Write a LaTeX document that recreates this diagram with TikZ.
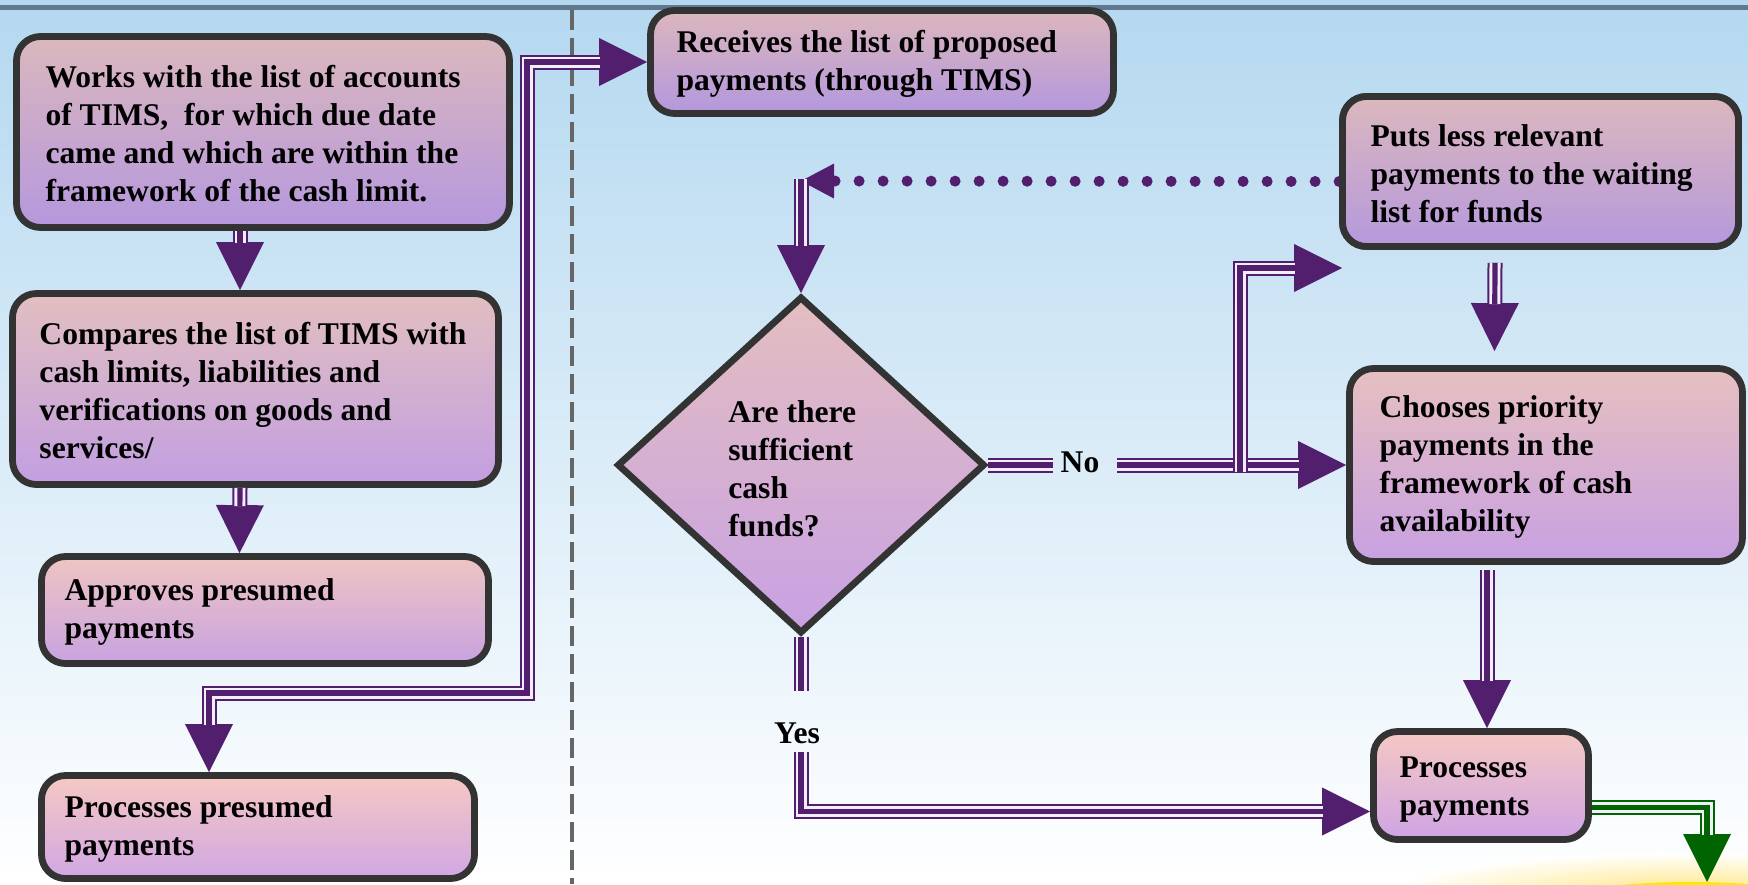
\documentclass[tikz,border=0pt]{standalone}
\usepackage{fontspec}
\setmainfont{Liberation Serif}
\usetikzlibrary{arrows.meta,shapes.geometric,fit}
\definecolor{pp}{HTML}{521E6E}
\definecolor{bd}{HTML}{333333}
\definecolor{gr}{HTML}{006400}
\definecolor{gapc}{HTML}{F2EEF7}
\definecolor{bgt}{HTML}{B4D8F0}
\definecolor{bgm}{HTML}{D6E9F6}
\definecolor{topl}{HTML}{60798F}
\definecolor{dashc}{HTML}{666666}
\definecolor{glowc}{HTML}{FFE680}
\definecolor{corec}{HTML}{FFE800}
\definecolor{c1t}{HTML}{DBB8BD}\definecolor{c1b}{HTML}{B597DE}
\definecolor{c2t}{HTML}{E2BFC0}\definecolor{c2b}{HTML}{C29FE0}
\definecolor{c3t}{HTML}{EFC5C3}\definecolor{c3b}{HTML}{C8A2E0}
\definecolor{c4t}{HTML}{F6C8C4}\definecolor{c4b}{HTML}{D0A7E3}
\definecolor{c5t}{HTML}{DCB7BD}\definecolor{c5b}{HTML}{B397DD}
\definecolor{c6t}{HTML}{DCB8BD}\definecolor{c6b}{HTML}{B598DD}
\definecolor{c7t}{HTML}{E6C0C0}\definecolor{c7b}{HTML}{C8A0E2}
\definecolor{c8t}{HTML}{F5C8C4}\definecolor{c8b}{HTML}{CFA4E3}
\definecolor{cdt}{HTML}{E3BEC0}\definecolor{cdb}{HTML}{C8A1E3}
\newcommand\tconn[4]{%
  \draw[tout,draw=#1,#2] #4;
  \draw[tgap,#3] #4;
  \draw[tmid,draw=#1,#3] #4;}
\tikzset{
  tout/.style={line width=7.5pt},
  tgap/.style={line width=5.5pt, draw=gapc},
  tmid/.style={line width=2.6pt},
  tipE/.style={-{Triangle[length=24pt,width=24pt,line width=0pt]}},
  tipB/.style={{Triangle[length=24pt,width=24pt,line width=0pt]}-{Triangle[length=24pt,width=24pt,line width=0pt]}},
  shE/.style={shorten >=23.5pt},
  shB/.style={shorten >=23.5pt, shorten <=23.5pt},
  noend/.style={},
  box/.style={draw=bd, line width=3.4pt, rounded corners=12pt, inner sep=0pt},
  txt/.style={font=\bfseries\fontsize{15.8pt}{19pt}\selectfont, align=left, inner sep=0pt, anchor=west, text=black},
  lbl/.style={font=\bfseries\fontsize{15.8pt}{19pt}\selectfont, inner sep=0pt, text=black},
  dotl/.style={draw=pp, line width=5.5pt, line cap=round, dash pattern=on 0pt off 12pt,
     -{Triangle[length=16.5pt,width=17.5pt,line width=0pt]}},
  dashl/.style={draw=dashc, line width=2pt, dash pattern=on 10pt off 4pt}
}
\begin{document}
\begin{tikzpicture}[x=0.5pt,y=-0.5pt]
\useasboundingbox (0,0) rectangle (1748,884);
\shade[top color=bgt, middle color=bgm, bottom color=white] (0,0) rectangle (1748,884);
\begin{scope}
  \clip (0,0) rectangle (1748,884);
  \shade[inner color=glowc, outer color=white] (1690,893) ellipse [x radius=150pt, y radius=20pt];
  \fill[corec] (1690,893) ellipse [x radius=50pt, y radius=5.5pt];
\end{scope}
\draw[line width=2.5pt, draw=topl] (0,7.5) -- (1748,7.5);
\draw[dashl] (572,10) -- (572,884);

% coordinates
\coordinate (lp) at (801,181);
\coordinate (el) at (527,693);
\coordinate (n1) at (1053,465);
\coordinate (n2) at (1117,465);
\coordinate (br) at (1240,472);
\coordinate (brt) at (1342,268);
\coordinate (y1) at (801,691);
\coordinate (y2) at (801,752);
\coordinate (gend) at (1707,882);

% dotted connector (under the box border)
\node[box, fit={(1342.5,96.5) (1738.5,246.5)}] (b6pre) {};
\draw[dotl] ([yshift=-5pt]b6pre.west) -- (lp);

% boxes
\node[box, top color=c1t, bottom color=c1b, fit={(16.5,36.5) (509.5,227.5)}] (b1) {};
\node[box, top color=c2t, bottom color=c2b, fit={(12.5,293.5) (498.5,484.5)}] (b2) {};
\node[box, top color=c3t, bottom color=c3b, fit={(41.5,556.5) (488.5,663.5)}] (b3) {};
\node[box, top color=c4t, bottom color=c4b, fit={(41.5,775.5) (474.5,878.5)}] (b4) {};
\node[box, top color=c5t, bottom color=c5b, fit={(650.5,10.5) (1113.5,113.5)}] (b5) {};
\node[box, top color=c6t, bottom color=c6b, fit={(1342.5,96.5) (1738.5,246.5)}] (b6) {};
\node[box, top color=c7t, bottom color=c7b, fit={(1349.5,368.5) (1742.5,561.5)}] (b7) {};
\node[box, top color=c8t, bottom color=c8b, fit={(1373.5,731.5) (1588.5,839.5)}] (b8) {};
\node[diamond, draw=bd, line width=3.4pt, top color=cdt, bottom color=cdb,
      minimum width=184pt, minimum height=168.5pt, inner sep=0pt] (d) at (801,465) {};

% texts
\node[txt] (t1) at ([xshift=16pt,yshift=-1pt]b1.west) {Works with the list of accounts\\of TIMS,~ for which due date\\came and which are within the\\framework of the cash limit.};
\node[txt] (t2) at ([xshift=15pt,yshift=-1pt]b2.west) {Compares the list of TIMS with\\cash limits, liabilities and\\verifications on goods and\\services/};
\node[txt] (t3) at ([xshift=13pt,yshift=-1pt]b3.west) {Approves presumed\\payments};
\node[txt] (t4) at ([xshift=13pt,yshift=-1pt]b4.west) {Processes presumed\\payments};
\node[txt] (t5) at ([xshift=14.5pt,yshift=-1pt]b5.west) {Receives the list of proposed\\payments (through TIMS)};
\node[txt] (t6) at ([xshift=15.5pt,yshift=-1pt]b6.west) {Puts less relevant\\payments to the waiting\\list for funds};
\node[txt] (t7) at ([xshift=16.5pt,yshift=-1pt]b7.west) {Chooses priority\\payments in the\\framework of cash\\availability};
\node[txt] (t8) at ([xshift=14.5pt,yshift=-2pt]b8.west) {Processes\\payments};
\node[txt] (td) at (728,469) {Are there\\sufficient\\cash\\funds?};
\node[lbl] (no) at (1080,462) {No};
\node[lbl] (yes) at (797,733) {Yes};

% connectors
\tconn{pp}{tipE}{shE}{([xshift=-11.5pt]b1.south) -- ([xshift=-7.75pt]b2.north)}
\tconn{pp}{tipE}{shE}{([xshift=-7.75pt]b2.south) -- ([xshift=-12.75pt]b3.north)}
\tconn{pp}{tipB}{shB}{(b5.west) -| (el) -| ([xshift=-24.5pt]b4.north)}
\tconn{pp}{tipE}{shE}{([yshift=1pt]lp) -- (d.north)}
\tconn{pp}{noend}{noend}{(d.east) -- (n1)}
\tconn{pp}{tipE}{shE}{(n2) -- (b7.west)}
\tconn{pp}{tipE}{shE}{(br) |- (brt)}
\tconn{pp}{tipE}{shE}{([xshift=-22.75pt,yshift=-6.5pt]b6.south) -- ([xshift=-25.75pt,yshift=7pt]b7.north)}
\tconn{pp}{tipE}{shE}{([xshift=-29.5pt,yshift=-2.5pt]b7.south) -- ([xshift=3pt]b8.north)}
\tconn{pp}{noend}{noend}{(d.south) -- (y1)}
\tconn{pp}{tipE}{shE}{(y2) |- ([yshift=-13pt]b8.west)}
\tconn{gr}{tipE}{shE}{([yshift=-11pt]b8.east) -| (gend)}
\end{tikzpicture}
\end{document}
